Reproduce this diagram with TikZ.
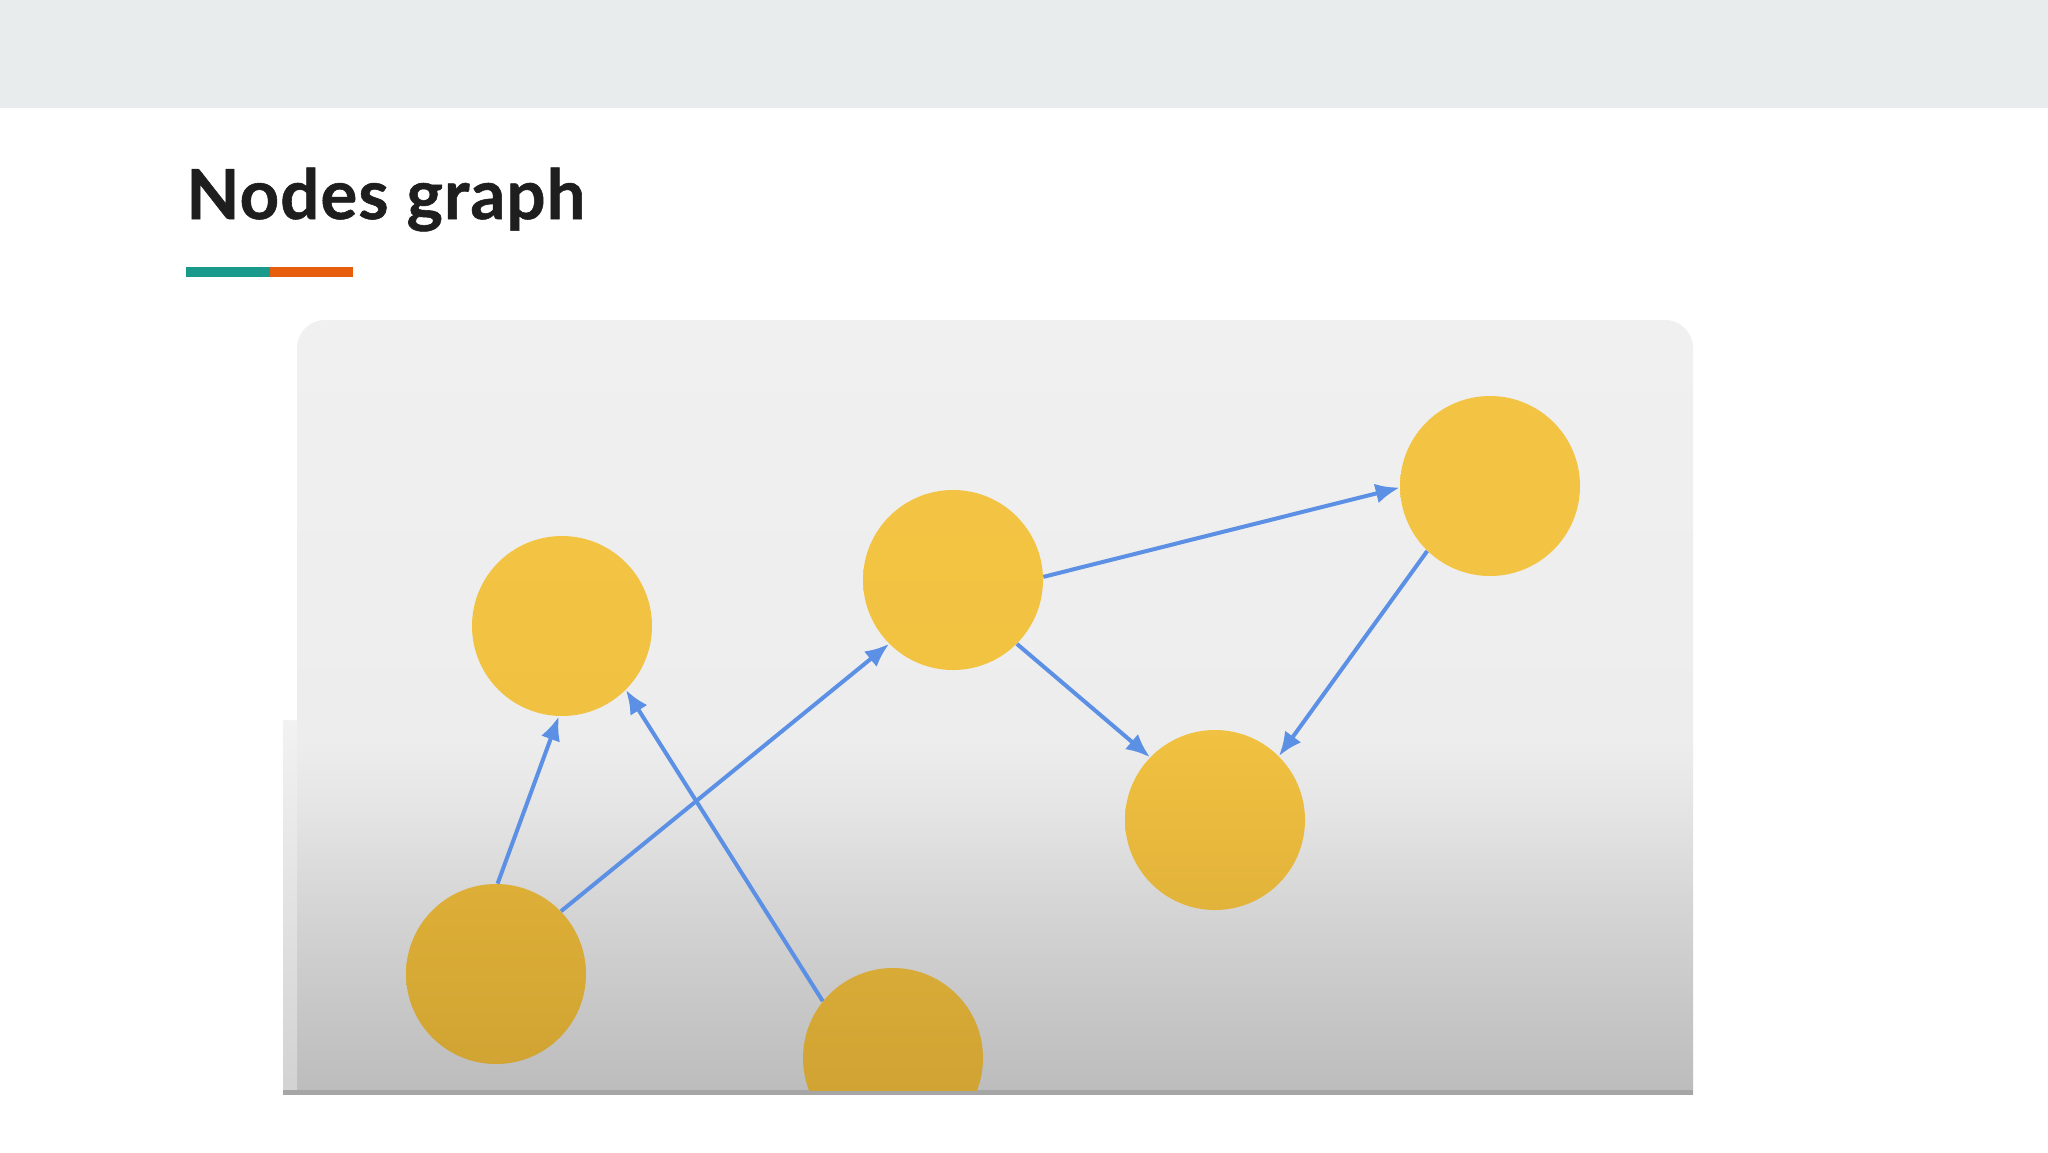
\documentclass[tikz,border=0pt]{standalone}
\usepackage{fontspec}
\setmainfont{Lato}
\usetikzlibrary{arrows.meta}
\definecolor{topbar}{HTML}{E8ECEC}
\definecolor{teal}{HTML}{1A9A8A}
\definecolor{orng}{HTML}{E85D0C}
\definecolor{titlec}{HTML}{1E1E1E}
\definecolor{edgeblue}{HTML}{5C90E4}
\definecolor{g0}{HTML}{BCBCBC}
\definecolor{g1}{HTML}{C8C8C8}
\definecolor{g2}{HTML}{D6D6D6}
\definecolor{g3}{HTML}{E6E6E6}
\definecolor{g4}{HTML}{EDEDED}
\definecolor{g5}{HTML}{F0F0F0}
\definecolor{stript}{HTML}{F2F2F2}
\definecolor{stripb}{HTML}{D2D2D2}
\definecolor{yA}{HTML}{F3C443}
\definecolor{yAb}{HTML}{F1C242}
\definecolor{yBb}{HTML}{F2C241}
\definecolor{yDt}{HTML}{F1C141}
\definecolor{yDb}{HTML}{E2B33A}
\definecolor{yEt}{HTML}{DDAF37}
\definecolor{yEb}{HTML}{D1A433}
\definecolor{yFt}{HTML}{D8AA36}
\definecolor{yFb}{HTML}{CDA032}
\pgfdeclareverticalshading{panelshade}{100bp}{color(0bp)=(g0); color(25bp)=(g0); color(31.07bp)=(g1); color(37.53bp)=(g2); color(43.99bp)=(g3); color(47.87bp)=(g4); color(75bp)=(g5); color(100bp)=(g5)}
\tikzset{
  gnode/.style={circle, minimum size=90pt, inner sep=0pt, draw=none},
  edge/.style={draw=edgeblue, line width=2pt, -{Latex[length=12pt,width=10pt]}},
}
\begin{document}
\begin{tikzpicture}[x=0.5pt,y=-0.5pt]
\useasboundingbox (0,0) rectangle (2048,1152);
\fill[white] (0,0) rectangle (2048,1152);
\fill[topbar] (0,0) rectangle (2048,108);
\node[anchor=base west, inner sep=0pt, font=\addfontfeatures{LetterSpace=1.5,FakeBold=0.8}\fontsize{34.5pt}{40pt}\selectfont\bfseries, text=titlec] (title) at (186,219) {Nodes graph};
\fill[teal] (186,267) rectangle (270,277);
\fill[orng] (270,267) rectangle (353,277);
% panel
\path[shading=panelshade] (297,1094) [rounded corners=14pt] -- (297,320) -- (1693,320) [sharp corners] -- (1693,1094) -- cycle;
\path[top color=stript, bottom color=stripb] (283,720) rectangle (297,1094);
\fill[black!35] (283,1090) rectangle (1693,1095);
\begin{scope}
\clip (283,320) rectangle (1693,1090);
\node[gnode, top color=yA, bottom color=yAb] (A) at (562,626) {};
\node[gnode, top color=yA, bottom color=yBb] (B) at (953,580) {};
\node[gnode, top color=yA, bottom color=yA] (C) at (1490,486) {};
\node[gnode, top color=yDt, bottom color=yDb] (D) at (1215,820) {};
\node[gnode, top color=yEt, bottom color=yEb] (E) at (496,974) {};
\node[gnode, top color=yFt, bottom color=yFb] (F) at (893,1058) {};
\end{scope}
\draw[edge] (E.89) -- (A.268);
\draw[edge] (F.141) -- (A.-45);
\draw[edge] (E.44) -- (B.-135);
\draw[edge] (B.2) -- (C.181);
\draw[edge] (B.-45) -- (D.136);
\draw[edge] (C.-134) -- (D.45);
\end{tikzpicture}
\end{document}
